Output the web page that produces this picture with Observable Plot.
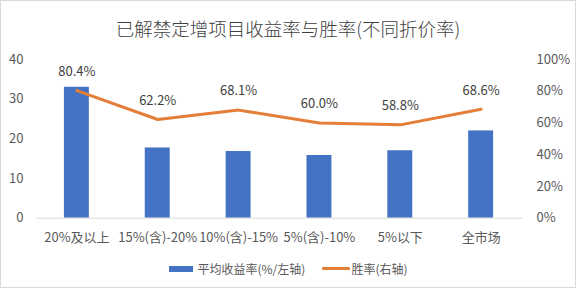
<!DOCTYPE html>
<html>
<head>
<meta charset="utf-8">
<script src="https://cdn.jsdelivr.net/npm/d3@7"></script>
<script src="https://cdn.jsdelivr.net/npm/@observablehq/plot@0.6"></script>
<style>
  html, body { margin: 0; padding: 0; background: #fff; }
  #wrap { position: relative; width: 576px; height: 288px; box-sizing: border-box; border: 1px solid #d9d9d9; overflow: hidden; font-family: "Noto Sans CJK SC", "Noto Sans", sans-serif; }
  #title { position: absolute; left: 0; top: 14px; width: 100%; text-align: center; font-size: 18.5px; color: #404040; line-height: 26px; font-weight: 300; }
  #chart { position: absolute; left: -1px; top: 44px; }
  #legend { position: absolute; left: 0; top: 259px; width: 100%; display: flex; justify-content: center; align-items: center; font-size: 12px; color: #595959; }
  .item { display: flex; align-items: center; }
  .item + .item { margin-left: 17px; }
  .sw-bar { width: 24px; height: 6px; background: #4472C4; margin-right: 5px; }
  .sw-line { width: 28px; height: 3px; background: #E47E38; margin-right: 1px; border-radius: 1px; }
</style>
</head>
<body>
<div id="wrap">
  <div id="title">已解禁定增项目收益率与胜率(不同折价率)</div>
  <div id="chart"></div>
  <div id="legend">
    <div class="item"><div class="sw-bar"></div><span>平均收益率(%/左轴)</span></div>
    <div class="item"><div class="sw-line"></div><span>胜率(右轴)</span></div>
  </div>
</div>
<script>
const categories = ["20%及以上", "15%(含)-20%", "10%(含)-15%", "5%(含)-10%", "5%以下", "全市场"];
const avgReturn = [33.0, 17.7, 16.8, 15.8, 17.0, 22.0];
const winRate = [80.4, 62.2, 68.1, 60.0, 58.8, 68.6];
const leftTicks = [0, 10, 20, 30, 40];
const rightTicks = [0, 20, 40, 60, 80, 100];

const leftMax = 40, rightMax = 100;
const toLeft = v => v / rightMax * leftMax;

const data = categories.map((c, i) => ({cat: c, ret: avgReturn[i], win: winRate[i]}));

const chart = Plot.plot({
  width: 576,
  height: 210,
  marginTop: 14,
  marginBottom: 37,
  marginLeft: 36,
  marginRight: 53,
  style: {fontFamily: '"Noto Sans CJK SC", "Noto Sans", sans-serif', fontSize: "13px", color: "#595959", background: "transparent"},
  x: {domain: categories, paddingInner: 0.69, paddingOuter: 0.345, label: null},
  y: {domain: [0, leftMax], label: null},
  marks: [
    Plot.barY(data, {x: "cat", y: "ret", fill: "#4472C4"}),
    Plot.ruleY([0], {stroke: "#d9d9d9", strokeWidth: 1}),
    Plot.line(data, {x: "cat", y: d => toLeft(d.win), stroke: "#E47E38", strokeWidth: 3, strokeLinejoin: "round", strokeLinecap: "round"}),
    Plot.text(data, {x: "cat", y: d => toLeft(d.win), text: d => d.win.toFixed(1) + "%", dy: -19, fill: "#404040", fontSize: 13}),
    Plot.axisX({tickSize: 0, tickPadding: 15, label: null}),
    Plot.axisY({anchor: "left", ticks: leftTicks, tickSize: 0, tickPadding: 13, label: null}),
    Plot.axisY({anchor: "right", ticks: rightTicks.map(toLeft), tickFormat: v => Math.round(v / leftMax * rightMax) + "%", tickSize: 0, tickPadding: 14, label: null, textAnchor: "start"})
  ]
});
document.getElementById("chart").appendChild(chart);
</script>
</body>
</html>
